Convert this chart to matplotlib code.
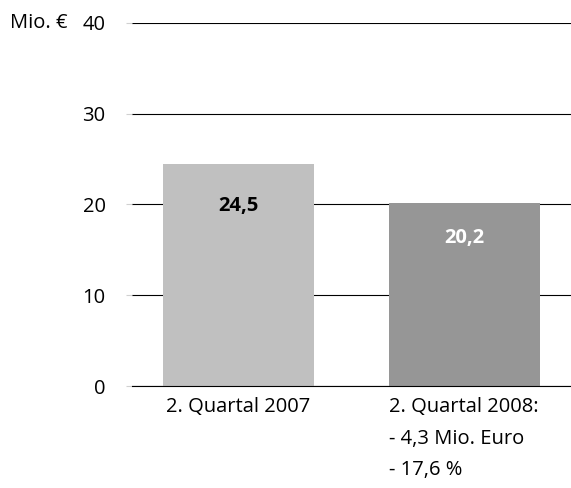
import matplotlib.pyplot as plt

# Daten
kategorien = ['2. Quartal 2007', '2. Quartal 2008:']
werte = [24.5, 20.2]
wert_labels = ['24,5', '20,2']
farben = ['#c0c0c0', '#969696']
label_farben = ['black', 'white']
yticks = [0, 10, 20, 30, 40]
zusatz = ['- 4,3 Mio. Euro', '- 17,6 %']

plt.rcParams['font.family'] = ['Open Sans', 'DejaVu Sans']
fs = 14.5

fig = plt.figure(figsize=(5.71, 4.88), dpi=100)
ax = fig.add_axes([132 / 571, 1 - 386 / 488, 1 - 132 / 571, (386 - 23) / 488])

x = list(range(len(kategorien)))
ax.set_axisbelow(True)
ax.yaxis.grid(True, color='black', linewidth=0.8)
bars = ax.bar(x, werte, width=0.668, color=farben, zorder=3)
ax.axhline(0, color='black', linewidth=0.8, zorder=5, clip_on=False)

# Werte im Balken (ca. 81 % der Balkenhöhe)
for bar, txt, c in zip(bars, wert_labels, label_farben):
    ax.text(bar.get_x() + bar.get_width() / 2, bar.get_height() * 0.81, txt,
            ha='center', va='center', fontsize=fs, fontweight='bold',
            color=c, zorder=4)

ax.set_xlim(-0.471, 1.471)
ax.set_ylim(0, 40)
ax.set_yticks(yticks)
ax.set_yticklabels([str(t) for t in yticks], fontsize=fs)
ax.tick_params(axis='y', length=4, color='#d0d0d0', pad=15)
ax.set_xticks([])
for s in ax.spines.values():
    s.set_visible(False)

# x-Beschriftungen
ax.text(x[0], -2.31, kategorien[0], ha='center', va='center', fontsize=fs)
links = x[1] - 0.334
ax.text(links, -2.31, kategorien[1], ha='left', va='center', fontsize=fs)
for i, zeile in enumerate(zusatz):
    ax.text(links, -5.8 - i * 3.45, zeile, ha='left', va='center', fontsize=fs)

fig.text(10 / 571, 1 - 23 / 488, 'Mio. €', ha='left', va='center', fontsize=fs)

fig.savefig('out.png', dpi=100)
